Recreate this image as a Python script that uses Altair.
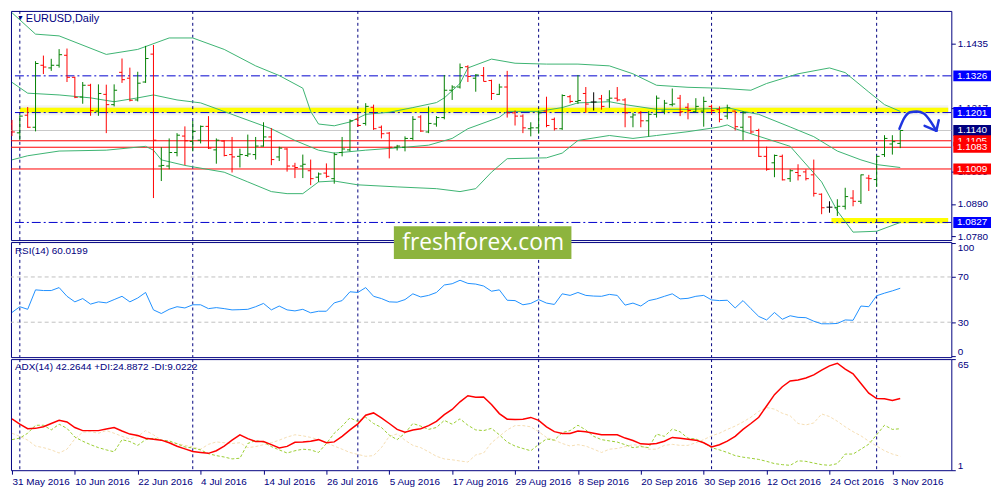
import altair as alt
import pandas as pd

FONT = "Liberation Sans"
NAVY = "#000080"
W, H_MAIN, H_RSI, H_ADX = 948, 231, 116, 112

# x axis: trading-day index, labels every 8 bars
tick_idx = [0, 8, 16, 24, 32, 40, 48, 56, 64, 72, 80, 88, 96, 104, 112]
tick_labels = ["31 May 2016", "10 Jun 2016", "22 Jun 2016", "4 Jul 2016", "14 Jul 2016",
               "26 Jul 2016", "5 Aug 2016", "17 Aug 2016", "29 Aug 2016", "8 Sep 2016",
               "20 Sep 2016", "30 Sep 2016", "12 Oct 2016", "24 Oct 2016", "3 Nov 2016"]
month_idx = [1, 23, 44, 67, 89, 110]

# EURUSD daily bars
opens = [1.1162, 1.1132, 1.1192, 1.1151, 1.1362, 1.1353, 1.1362, 1.1396, 1.1321, 1.1254,
         1.1294, 1.1206, 1.1263, 1.1228, 1.1338, 1.1318, 1.1244, 1.1305, 1.1400, 1.1019,
         1.1019, 1.1065, 1.1121, 1.1103, 1.1107, 1.1154, 1.1074, 1.1104, 1.1058, 1.1052,
         1.1055, 1.1058, 1.1087, 1.1118, 1.1050, 1.1077, 1.1019, 1.1019, 1.1003, 1.0981,
         1.0995, 1.0976, 1.1065, 1.1074, 1.1178, 1.1164, 1.1219, 1.1151, 1.1131, 1.1083,
         1.1083, 1.1113, 1.1186, 1.1135, 1.1162, 1.1184, 1.1277, 1.1288, 1.1357, 1.1318,
         1.1327, 1.1310, 1.1263, 1.1288, 1.1200, 1.1189, 1.1146, 1.1149, 1.1206, 1.1178,
         1.1146, 1.1255, 1.1239, 1.1266, 1.1237, 1.1248, 1.1244, 1.1250, 1.1244, 1.1186,
         1.1200, 1.1173, 1.1195, 1.1206, 1.1228, 1.1250, 1.1219, 1.1204, 1.1206, 1.1222,
         1.1211, 1.1189, 1.1206, 1.1151, 1.1186, 1.1140, 1.1052, 1.1030, 1.1052, 1.0976,
         1.0997, 1.0999, 1.0989, 1.0923, 1.0879, 1.0877, 1.0882, 1.0910, 1.0899, 1.0978,
         1.0973, 1.1058, 1.1094, 1.1096]
highs = [1.1176, 1.1192, 1.1220, 1.1376, 1.1395, 1.1384, 1.1417, 1.1419, 1.1323, 1.1305,
         1.1299, 1.1297, 1.1296, 1.1297, 1.1385, 1.1354, 1.1340, 1.1428, 1.1431, 1.1083,
         1.1113, 1.1131, 1.1154, 1.1173, 1.1157, 1.1189, 1.1113, 1.1107, 1.1118, 1.1078,
         1.1126, 1.1118, 1.1168, 1.1148, 1.1085, 1.1080, 1.1030, 1.1058, 1.1041, 1.0997,
         1.1028, 1.1065, 1.1118, 1.1178, 1.1195, 1.1233, 1.1228, 1.1157, 1.1135, 1.1091,
         1.1120, 1.1189, 1.1192, 1.1222, 1.1189, 1.1329, 1.1294, 1.1368, 1.1362, 1.1332,
         1.1356, 1.1313, 1.1299, 1.1343, 1.1208, 1.1195, 1.1168, 1.1208, 1.1255, 1.1184,
         1.1263, 1.1261, 1.1329, 1.1288, 1.1270, 1.1261, 1.1277, 1.1288, 1.1250, 1.1200,
         1.1206, 1.1206, 1.1259, 1.1244, 1.1283, 1.1261, 1.1233, 1.1250, 1.1255, 1.1228,
         1.1222, 1.1228, 1.1208, 1.1206, 1.1189, 1.1146, 1.1085, 1.1058, 1.1058, 1.1008,
         1.1025, 1.1008, 1.1041, 1.0926, 1.0899, 1.0906, 1.0945, 1.0937, 1.0990, 1.0989,
         1.1055, 1.1124, 1.1124, 1.1140]
lows = [1.1121, 1.1107, 1.1149, 1.1137, 1.1332, 1.1343, 1.1354, 1.1305, 1.1250, 1.1231,
        1.1190, 1.1190, 1.1131, 1.1222, 1.1302, 1.1239, 1.1239, 1.1302, 1.0910, 1.0968,
        1.1008, 1.1052, 1.1022, 1.1069, 1.1096, 1.1077, 1.1027, 1.1052, 1.0997, 1.1014,
        1.1050, 1.1041, 1.1085, 1.1022, 1.1036, 1.1000, 1.0978, 1.0978, 1.0954, 1.0965,
        1.0979, 1.0959, 1.1052, 1.1069, 1.1153, 1.1157, 1.1142, 1.1113, 1.1045, 1.1072,
        1.1069, 1.1107, 1.1135, 1.1131, 1.1153, 1.1178, 1.1244, 1.1283, 1.1305, 1.1272,
        1.1307, 1.1244, 1.1261, 1.1184, 1.1157, 1.1131, 1.1120, 1.1129, 1.1151, 1.1140,
        1.1142, 1.1233, 1.1230, 1.1200, 1.1208, 1.1211, 1.1217, 1.1239, 1.1151, 1.1151,
        1.1151, 1.1120, 1.1184, 1.1195, 1.1222, 1.1189, 1.1178, 1.1200, 1.1153, 1.1195,
        1.1168, 1.1178, 1.1140, 1.1107, 1.1129, 1.1050, 1.1003, 1.0981, 1.0970, 1.0965,
        1.0970, 1.0970, 1.0915, 1.0855, 1.0860, 1.0849, 1.0871, 1.0882, 1.0890, 1.0934,
        1.0948, 1.1050, 1.1058, 1.1080]
closes = [1.1135, 1.1189, 1.1151, 1.1368, 1.1356, 1.1362, 1.1398, 1.1321, 1.1253, 1.1294,
          1.1208, 1.1266, 1.1228, 1.1277, 1.1313, 1.1243, 1.1301, 1.1385, 1.1107, 1.1021,
          1.1065, 1.1124, 1.1105, 1.1137, 1.1154, 1.1080, 1.1107, 1.1055, 1.1050, 1.1058,
          1.1060, 1.1087, 1.1118, 1.1041, 1.1080, 1.1019, 1.1014, 1.1025, 1.0976, 1.0992,
          1.0984, 1.1058, 1.1077, 1.1173, 1.1157, 1.1222, 1.1146, 1.1129, 1.1083, 1.1087,
          1.1113, 1.1178, 1.1138, 1.1164, 1.1184, 1.1277, 1.1288, 1.1354, 1.1324, 1.1329,
          1.1307, 1.1266, 1.1288, 1.1200, 1.1189, 1.1149, 1.1149, 1.1200, 1.1157, 1.1146,
          1.1259, 1.1239, 1.1242, 1.1230, 1.1237, 1.1222, 1.1250, 1.1244, 1.1200, 1.1193,
          1.1173, 1.1195, 1.1250, 1.1233, 1.1230, 1.1204, 1.1208, 1.1222, 1.1239, 1.1208,
          1.1178, 1.1217, 1.1153, 1.1200, 1.1135, 1.1052, 1.1008, 1.1055, 1.0972, 1.1003,
          1.0986, 1.0976, 1.0926, 1.0877, 1.0879, 1.0882, 1.0915, 1.0899, 1.0989, 1.0976,
          1.1052, 1.1113, 1.1102, 1.1140]

# Bollinger bands
up_idx = [0, 3, 6, 12, 16, 20, 23, 27, 31, 34, 37, 38, 39, 41, 43, 45, 48, 51, 54, 55,
          57, 58, 61, 64, 68, 72, 76, 79, 82, 86, 90, 94, 96, 100, 104, 106, 109, 111, 113]
up_val = [1.1541, 1.1468, 1.1462, 1.1399, 1.1416, 1.1455, 1.1455, 1.1416, 1.1360, 1.1327,
          1.1284, 1.1205, 1.1162, 1.1156, 1.1169, 1.1195, 1.1202, 1.1218, 1.1235, 1.1251,
          1.1300, 1.1353, 1.1383, 1.1369, 1.1366, 1.1366, 1.1360, 1.1333, 1.1294, 1.1287,
          1.1284, 1.1277, 1.1300, 1.1333, 1.1353, 1.1337, 1.1271, 1.1228, 1.1205]
mid_idx = [0, 2, 6, 10, 13, 16, 18, 21, 24, 29, 33, 36, 39, 41, 45, 50, 53, 56, 58, 62,
           63, 67, 70, 72, 76, 78, 82, 86, 90, 91, 93, 95, 99, 102, 105, 108, 110, 113]
mid_val = [1.1304, 1.1267, 1.1261, 1.1251, 1.1238, 1.1251, 1.1261, 1.1244, 1.1234, 1.1185,
           1.1146, 1.1106, 1.1073, 1.1063, 1.1073, 1.1083, 1.1090, 1.1113, 1.1146, 1.1185,
           1.1205, 1.1205, 1.1218, 1.1234, 1.1238, 1.1228, 1.1212, 1.1212, 1.1215, 1.1218,
           1.1205, 1.1195, 1.1152, 1.1119, 1.1070, 1.1040, 1.1024, 1.1014]
low_idx = [0, 2, 6, 12, 17, 18, 19, 22, 27, 30, 33, 35, 37, 39, 41, 44, 49, 54, 57, 59,
           61, 63, 68, 70, 72, 76, 79, 82, 86, 90, 91, 92, 94, 99, 103, 105, 107, 110, 113]
low_val = [1.1040, 1.1054, 1.1070, 1.1073, 1.1086, 1.1073, 1.1040, 1.1021, 1.0998, 1.0965,
           1.0932, 1.0925, 1.0925, 1.0965, 1.0968, 1.0955, 1.0948, 1.0942, 1.0932, 1.0942,
           1.0998, 1.1044, 1.1047, 1.1063, 1.1106, 1.1123, 1.1113, 1.1123, 1.1136, 1.1152,
           1.1159, 1.1146, 1.1129, 1.1086, 1.0965, 1.0866, 1.0794, 1.0797, 1.0827]

# price scale labels (those fully hidden behind level boxes are left out)
price_ticks = [1.1435, 1.1217, 1.0999, 1.0890, 1.0780]
level_prices = [1.1326, 1.1201, 1.1140, 1.1105, 1.1009, 1.0827]
level_colors = ["#0000ff", "#0000ff", "#000080", "#ff0000", "#ff0000", "#0000ff"]
top_level = [1.1083]          # drawn last, partly covers the 1.1105 box
blue_lines = [1.1326, 1.1201, 1.0827]
red_lines = [1.1105, 1.1083, 1.1009]
bid_line = [1.1140]
zone_x0 = [1, 104.25]
zone_x1 = [119.1, 119.1]
zone_lo = [1.1201, 1.0824]
zone_hi = [1.1217, 1.0842]
arrow_i = [112.9, 113.5, 114.25, 115.1, 116.0, 116.75, 117.6]
arrow_p = [1.1146, 1.1182, 1.1202, 1.1205, 1.1198, 1.1175, 1.1139]
head_i = [116.1, 117.9]
head_p = [1.1156, 1.1175]

# indicators
rsi = [38.6, 43.7, 41.4, 58.6, 58.0, 58.0, 60.6, 52.9, 48.0, 50.9,
       46.0, 48.0, 47.1, 50.0, 52.9, 48.0, 51.4, 56.3, 40.9, 37.7,
       41.4, 43.7, 42.6, 45.4, 45.4, 42.0, 42.9, 42.0, 40.9, 41.1,
       41.4, 43.7, 46.6, 40.9, 44.3, 40.9, 40.0, 41.4, 38.3, 39.7,
       39.7, 47.1, 49.1, 56.9, 56.3, 60.6, 52.9, 50.9, 48.0, 47.7,
       50.0, 55.1, 52.3, 53.7, 56.3, 62.9, 64.0, 67.1, 64.3, 63.7,
       62.0, 57.4, 58.6, 49.4, 49.1, 45.4, 46.6, 50.0, 46.9, 45.7,
       55.1, 53.7, 56.3, 53.7, 53.1, 52.9, 54.6, 53.7, 45.1, 46.9,
       44.3, 49.1, 50.6, 52.9, 55.1, 50.6, 51.1, 52.9, 53.7, 49.7,
       49.1, 49.4, 42.6, 49.1, 42.0, 35.1, 32.0, 38.6, 32.6, 35.7,
       34.3, 34.0, 30.9, 28.6, 28.6, 28.9, 32.0, 31.7, 44.3, 43.7,
       53.4, 55.7, 57.7, 60.02]
rsi_levels = [30, 70]
adx = [30.6, 27.5, 24.9, 25.1, 26.0, 27.9, 29.7, 28.8, 25.6, 23.8,
       23.8, 23.8, 24.7, 25.6, 23.6, 21.8, 21.0, 19.4, 18.8, 18.3,
       16.8, 14.8, 13.3, 11.8, 11.2, 10.7, 12.2, 14.9, 18.3, 21.4,
       19.2, 17.5, 17.5, 15.7, 13.8, 14.7, 17.1, 17.3, 17.7, 18.6,
       16.8, 17.3, 20.5, 24.2, 27.7, 32.7, 34.0, 31.2, 27.9, 24.5,
       22.9, 24.2, 24.9, 26.7, 29.1, 33.0, 36.0, 40.4, 43.9, 43.0,
       43.2, 38.9, 33.6, 30.4, 30.2, 30.4, 31.4, 29.7, 26.0, 23.2,
       22.1, 22.1, 23.6, 23.2, 22.3, 21.4, 21.4, 21.4, 19.5, 18.1,
       16.2, 15.9, 16.4, 17.7, 19.9, 19.4, 18.8, 18.3, 16.8, 14.4,
       15.7, 17.7, 20.5, 24.5, 27.9, 31.5, 38.0, 44.5, 49.1, 52.4,
       53.0, 54.1, 55.9, 58.7, 61.1, 62.6, 59.2, 56.5, 50.9, 45.4,
       42.3, 42.1, 41.2, 42.26]
di_plus = [18.6, 19.5, 22.3, 26.9, 26.9, 24.2, 27.5, 25.1, 20.1, 17.7,
           15.7, 14.0, 12.7, 11.6, 18.6, 17.5, 15.3, 18.6, 19.4, 18.3,
           17.9, 16.2, 14.4, 13.8, 12.7, 10.5, 9.4, 8.6, 7.5, 7.9,
           16.4, 18.1, 17.2, 14.6, 12.7, 10.9, 12.2, 13.1, 12.7, 11.2,
           16.4, 22.3, 26.4, 31.2, 29.0, 31.5, 27.9, 25.6, 21.2, 18.6,
           22.3, 27.9, 26.4, 24.5, 25.6, 29.7, 27.5, 30.6, 26.9, 24.2,
           23.8, 25.1, 21.4, 17.2, 14.9, 13.5, 12.2, 15.8, 19.0, 18.3,
           22.7, 23.8, 26.9, 24.2, 20.5, 18.6, 17.9, 17.2, 15.7, 14.0,
           14.6, 14.0, 21.8, 20.5, 24.7, 23.1, 19.4, 19.0, 16.8, 14.0,
           12.7, 11.2, 9.4, 8.5, 7.9, 7.2, 6.1, 4.8, 4.2, 3.8,
           6.4, 6.1, 5.1, 4.2, 3.8, 4.8, 10.3, 10.3, 13.1, 16.0,
           21.4, 26.9, 24.5, 24.89]
di_minus = [22.3, 20.5, 18.3, 14.9, 14.0, 12.7, 10.9, 13.1, 19.0, 22.9,
            23.2, 22.3, 23.8, 22.3, 20.5, 19.0, 20.5, 23.8, 21.4, 18.3,
            17.1, 16.4, 15.3, 14.4, 13.1, 15.9, 17.3, 16.8, 16.4, 16.8,
            14.0, 14.6, 15.7, 16.8, 18.3, 20.1, 21.4, 20.8, 19.9, 18.6,
            16.8, 14.9, 13.1, 11.2, 10.1, 9.0, 9.4, 14.0, 20.5, 21.9,
            18.3, 15.3, 14.0, 11.6, 9.0, 7.5, 7.0, 6.3, 5.7, 9.8,
            10.9, 16.8, 20.5, 24.2, 26.7, 26.7, 26.0, 23.2, 19.9, 18.3,
            16.4, 14.9, 15.7, 14.9, 13.1, 11.2, 13.1, 13.5, 14.6, 15.7,
            15.3, 13.1, 13.1, 15.3, 15.9, 15.3, 15.3, 16.8, 18.6, 20.8,
            22.3, 24.5, 26.4, 28.8, 31.5, 34.9, 37.1, 36.2, 33.8, 32.3,
            27.9, 27.1, 28.2, 33.4, 31.9, 29.2, 26.0, 23.2, 20.8, 17.7,
            14.9, 12.2, 10.3, 9.02]

idx = list(range(len(opens)))
x_scale = alt.Scale(domain=[-0.125, 119.5], nice=False, zero=False)
p_scale = alt.Scale(domain=[1.0767, 1.1547], nice=False, zero=False)
rsi_scale = alt.Scale(domain=[-0.85, 100.85], nice=False, zero=False)
adx_scale = alt.Scale(domain=[1, 65], nice=False, zero=False)

# one axis object per panel, shared by every layer of that panel
price_axis = alt.Axis(orient="right", values=price_ticks, format=".4f", title=None,
                      tickSize=4, labelPadding=2)
rsi_axis = alt.Axis(orient="right", values=[0, 30, 70, 100], labelFlush=3, title=None,
                    tickSize=4, labelPadding=2)
adx_axis = alt.Axis(orient="right", values=[1, 65], labelFlush=3, title=None,
                    tickSize=4, labelPadding=2)
label_js = "[" + ",".join(f"'{s}'" for s in tick_labels) + "][round(datum.value / 8)]"
date_axis = alt.Axis(values=tick_idx, labelExpr=label_js, labelAlign="left", title=None,
                     tickSize=4, labelPadding=2, labelFlush=False)


def xq(field, axis=None):
    return alt.X(f"{field}:Q", scale=x_scale, axis=axis)


def py(field):
    return alt.Y(f"{field}:Q", scale=p_scale, axis=price_axis)


def separators(axis=None):
    return alt.Chart(pd.DataFrame({"i": month_idx})).mark_rule(
        color=NAVY, strokeDash=[3, 3], strokeWidth=1).encode(x=xq("i", axis))


def label(text, x, y, size=10, color=NAVY, font=FONT, align="left"):
    return alt.Chart(pd.DataFrame({"t": [text]})).mark_text(
        align=align, baseline="middle", font=font, fontSize=size, color=color
    ).encode(x=alt.value(x), y=alt.value(y), text="t:N")


# ---------- price panel ----------
bars = pd.DataFrame({"i": idx, "open": opens, "high": highs, "low": lows, "close": closes})
bar_base = alt.Chart(bars).transform_calculate(
    dir="datum.close > datum.open ? 'up' : (datum.close < datum.open ? 'down' : 'flat')",
    xl="datum.i - 0.375",
    xr="datum.i + 0.375",
)
bar_color = alt.Color("dir:N", legend=None,
                      scale=alt.Scale(domain=["up", "down", "flat"], range=["#008000", "#ff0000", "#000000"]))

hl = bar_base.mark_rule(strokeWidth=1, clip=True).encode(
    x=xq("i"), y=py("low"), y2="high:Q", color=bar_color)
op = bar_base.mark_rule(strokeWidth=1, clip=True).encode(
    x=xq("xl"), x2="i:Q", y=py("open"), color=bar_color)
cl = bar_base.mark_rule(strokeWidth=1, clip=True).encode(
    x=xq("i"), x2="xr:Q", y=py("close"), color=bar_color)

bb = pd.concat([
    pd.DataFrame({"i": up_idx, "v": up_val, "band": "upper"}),
    pd.DataFrame({"i": mid_idx, "v": mid_val, "band": "middle"}),
    pd.DataFrame({"i": low_idx, "v": low_val, "band": "lower"}),
])
bands = alt.Chart(bb).mark_line(color="#3cb371", strokeWidth=1, clip=True).encode(
    x=xq("i"), y=py("v"), detail="band:N")

zones = pd.DataFrame({"x0": zone_x0, "x1": zone_x1, "lo": zone_lo, "hi": zone_hi})
shadow = alt.Chart(zones.head(1)).mark_rect(color="#808080", opacity=0.2).encode(
    x=xq("x0"), x2="x1:Q", y=py("lo"), y2="hi:Q")
shadow_pad = alt.Chart(zones.head(1)).transform_calculate(
    lo2="datum.lo - 0.0009", hi2="datum.hi + 0.0009").mark_rect(color="#a0a0a0", opacity=0.13).encode(
    x=xq("x0"), x2="x1:Q", y=py("lo2"), y2="hi2:Q")
yellow = alt.Chart(zones).mark_rect(color="#ffff00").encode(
    x=xq("x0"), x2="x1:Q", y=py("lo"), y2="hi:Q")

bid = alt.Chart(pd.DataFrame({"p": bid_line})).mark_rule(color="#c8c8c8", strokeWidth=1).encode(y=py("p"))
reds = alt.Chart(pd.DataFrame({"p": red_lines})).mark_rule(color="#ff0000", strokeWidth=1).encode(y=py("p"))
blues = alt.Chart(pd.DataFrame({"p": blue_lines})).mark_rule(
    color="#0000cd", strokeWidth=1, strokeDash=[9, 3, 2, 3]).encode(y=py("p"))

arrow = alt.Chart(pd.DataFrame({"i": arrow_i, "p": arrow_p})).mark_line(
    color="#1f35e0", strokeWidth=2.5, strokeCap="round", interpolate="monotone").encode(
    x=xq("i"), y=py("p"))
head = alt.Chart(pd.DataFrame({"i": head_i, "p": head_p,
                               "ti": [arrow_i[-1]] * 2, "tp": [arrow_p[-1]] * 2})).mark_rule(
    color="#1f35e0", strokeWidth=2.5, strokeCap="round").encode(
    x=xq("i"), x2="ti:Q", y=py("p"), y2="tp:Q")


def level_boxes(prices, colors):
    df = pd.DataFrame({"p": prices, "c": colors, "t": [f"{v:.4f}" for v in prices]})
    box = alt.Chart(df).mark_point(
        shape="M-1,-0.29H1V0.29H-1Z", filled=True, size=1444, opacity=1, strokeWidth=0).encode(
        x=alt.value(W + 21), y=py("p"), color=alt.Color("c:N", scale=None))
    txt = alt.Chart(df).mark_text(
        align="center", baseline="middle", font=FONT, fontSize=10, color="white").encode(
        x=alt.value(W + 21), y=py("p"), text="t:N")
    return [box, txt]


main = alt.layer(
    shadow_pad, shadow, yellow, bid, reds, blues, separators(), bands, hl, op, cl, arrow, head,
    *level_boxes(level_prices, level_colors),
    *level_boxes(top_level, ["#ff0000"]),
    label("\u25bc", 6, 7, size=7),
    label("EURUSD,Daily", 15, 8, size=11),
).properties(width=W, height=H_MAIN)

# ---------- RSI panel ----------
rsi_df = pd.DataFrame({"i": idx, "v": rsi})
rsi_lvl = alt.Chart(pd.DataFrame({"v": rsi_levels})).mark_rule(
    color="#c0c0c0", strokeDash=[4, 3]).encode(y=alt.Y("v:Q", scale=rsi_scale, axis=rsi_axis))
rsi_line = alt.Chart(rsi_df).mark_line(color="#1e90ff", strokeWidth=1).encode(
    x=xq("i"), y=alt.Y("v:Q", scale=rsi_scale, axis=rsi_axis))
rsi_panel = alt.layer(
    rsi_lvl, separators(), rsi_line, label("RSI(14) 60.0199", 4, 9)
).properties(width=W, height=H_RSI)

# ---------- ADX panel ----------
ind = pd.DataFrame({"i": idx, "adx": adx, "pdi": di_plus, "mdi": di_minus})


def adx_series(field, color, width, dash=None):
    kw = {"strokeDash": dash} if dash else {}
    return alt.Chart(ind).mark_line(color=color, strokeWidth=width, **kw).encode(
        x=xq("i", date_axis), y=alt.Y(f"{field}:Q", scale=adx_scale, axis=adx_axis))


wm_box = alt.Chart(pd.DataFrame({"t": ["freshforex.com"]})).mark_rect(color="#8db43e").encode(
    x=alt.value(386), x2=alt.value(565), y=alt.value(-134), y2=alt.value(-101))

adx_panel = alt.layer(
    separators(date_axis),
    adx_series("mdi", "#f5deb3", 1, [3, 2]),
    adx_series("pdi", "#9acd32", 1, [3, 2]),
    adx_series("adx", "#ff0000", 1.5),
    label("ADX(14) 42.2644 +DI:24.8872 -DI:9.0222", 4, 8),
    wm_box,
    label("freshforex.com", 476, -117, size=23, color="white", font="Open Sans", align="center"),
).properties(width=W, height=H_ADX)

chart = alt.vconcat(main, rsi_panel, adx_panel, spacing=2, bounds="flush").properties(
    padding=0
).configure_view(
    stroke=NAVY, strokeWidth=1
).configure_axis(
    labelFont=FONT, labelFontSize=10, labelColor=NAVY, tickColor=NAVY,
    domain=False, grid=False
)

chart.save("out.html", embed_options={"renderer": "svg", "actions": False})
